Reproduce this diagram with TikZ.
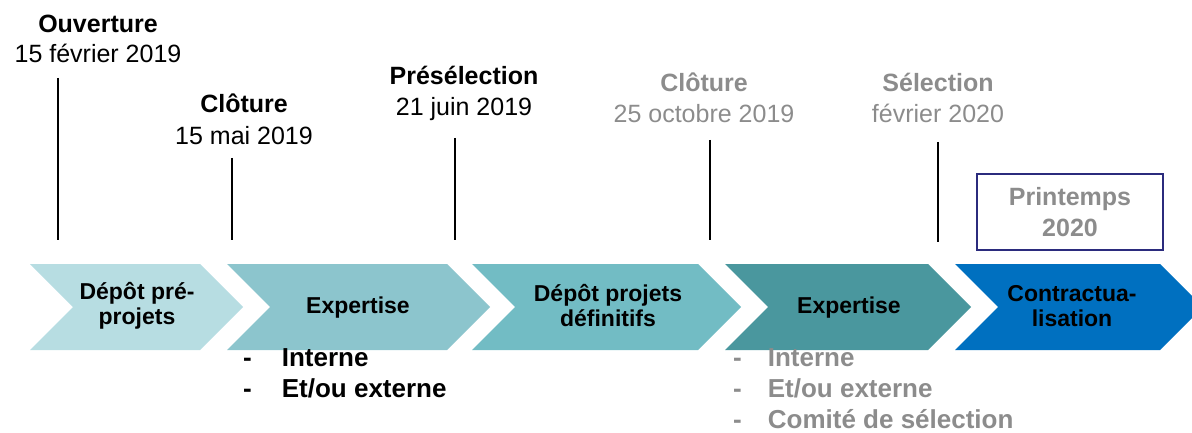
\documentclass[tikz,border=0pt]{standalone}
\usepackage{fontspec}
\setmainfont{Liberation Sans}
\usepackage{xcolor}
\usetikzlibrary{positioning}
\definecolor{chevA}{RGB}{183,221,226}
\definecolor{chevB}{RGB}{140,197,205}
\definecolor{chevC}{RGB}{114,188,196}
\definecolor{chevD}{RGB}{74,151,158}
\definecolor{chevE}{RGB}{0,112,192}
\definecolor{greytxt}{RGB}{140,140,140}
\definecolor{navyline}{RGB}{43,43,125}

\begin{document}
\begin{tikzpicture}[x=1pt, y=-1pt,
    milestone/.style={font=\fontsize{25}{30}\selectfont\bfseries,
                      anchor=base, inner sep=0pt},
    msdate/.style={font=\fontsize{25}{30}\selectfont,
                   anchor=base, inner sep=0pt},
    steptext/.style={font=\fontsize{23}{25}\selectfont\bfseries,
                     align=center, inner sep=0pt},
    tick/.style={line width=2.8pt}]
  \useasboundingbox (0,0) rectangle (1192,433);

  % Chevrons
  \foreach \xa/\xb/\col in {30/200/chevA, 227/447/chevB, 472/698/chevC,
                            725/928/chevD, 955/1160/chevE}
    \fill[\col] (\xa,264) -- (\xb,264) -- (\xb+43,307) -- (\xb,350)
                -- (\xa,350) -- (\xa+43,307) -- cycle;

  \node[steptext] (depot)   at (137,306) {Dépôt pré-\\projets};
  \node[steptext] (exp1)    at (358,308) {Expertise};
  \node[steptext] (depdef)  at (608,306) {Dépôt projets\\définitifs};
  \node[steptext] (exp2)    at (849,308) {Expertise};
  \node[steptext] (contrat) at (1072,306) {Contractua-\\lisation};

  % Milestones
  \node[milestone] (ouv)  at (98,33) {Ouverture};
  \node[msdate]    (ouvd) at (98,63) {15 février 2019};
  \coordinate (ouvtop) at (58,78);
  \coordinate (ouvbot) at (58,240);
  \draw[tick] (ouvtop) -- (ouvbot);

  \node[milestone] (clo)  at (244,113) {Clôture};
  \node[msdate]    (clod) at (244,145) {15 mai 2019};
  \coordinate (clotop) at (232,158);
  \coordinate (clobot) at (232,240);
  \draw[tick] (clotop) -- (clobot);

  \node[milestone] (pre)  at (464,85) {Présélection};
  \node[msdate]    (pred) at (464,116) {21 juin 2019};
  \coordinate (pretop) at (455,138);
  \coordinate (prebot) at (455,240);
  \draw[tick] (pretop) -- (prebot);

  \node[milestone, text=greytxt] (clob)  at (704,92) {Clôture};
  \node[msdate, text=greytxt]    (clobd) at (704,123) {25 octobre 2019};
  \coordinate (clobtop) at (710,140);
  \coordinate (clobbot) at (710,240);
  \draw[tick] (clobtop) -- (clobbot);

  \node[milestone, text=greytxt] (sel)  at (938,92) {Sélection};
  \node[msdate, text=greytxt]    (seld) at (938,123) {février 2020};
  \coordinate (seltop) at (938,142);
  \coordinate (selbot) at (938,242);
  \draw[tick] (seltop) -- (selbot);

  \node[draw=navyline, line width=2pt, minimum width=186pt,
        minimum height=76pt, inner sep=0pt, align=center, text=greytxt,
        font=\fontsize{25}{31}\selectfont\bfseries] (spring)
        at (1070,212) {Printemps\\2020};

  % Expertise details
  \node[anchor=base west, inner sep=0pt,
        font=\fontsize{26}{31}\selectfont\bfseries] (list1) at (243,366) {%
    \begin{tabular}[t]{@{}l@{\hspace{30pt}}l@{}}
      - & Interne \\
      - & Et/ou externe
    \end{tabular}%
  };
  \node[anchor=base west, inner sep=0pt, text=greytxt,
        font=\fontsize{26}{31}\selectfont\bfseries] (list2) at (733,366) {%
    \begin{tabular}[t]{@{}l@{\hspace{26pt}}l@{}}
      - & Interne \\
      - & Et/ou externe \\
      - & Comité de sélection
    \end{tabular}%
  };
\end{tikzpicture}
\end{document}
